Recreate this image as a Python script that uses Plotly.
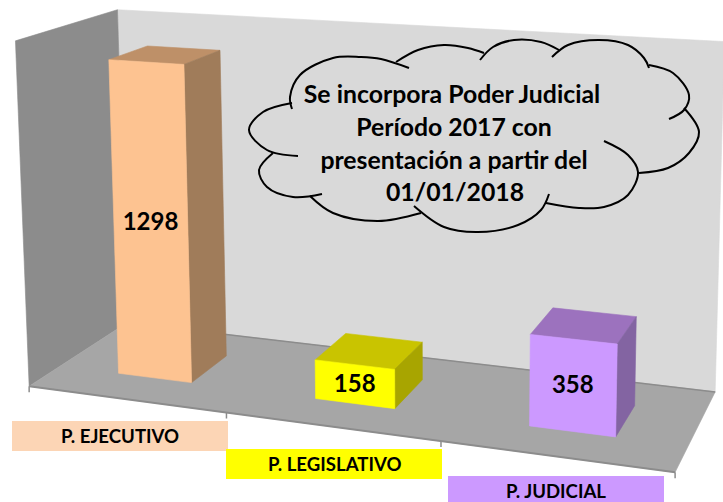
import numpy as np
import plotly.graph_objects as go

categories = ["P. EJECUTIVO", "P. LEGISLATIVO", "P. JUDICIAL"]
values = [1298, 158, 358]
axis_max = 1400
front_colors = ["#FDC391", "#FFFF00", "#CC99FF"]
top_colors = ["#BE9068", "#C9C400", "#9C72BE"]
side_colors = ["#A07C5A", "#A8A500", "#8364A2"]
label_colors = ["#FCD5B5", "#FFFF00", "#CC99FF"]
label_centers = [(120, 436), (334, 464), (556, 491)]

W, H = 723, 502

# camera calibration: (category pos, depth, height share) -> page pixel
calib = [
    ((0, 0, 0), (31, 386)), ((1, 0, 0), (228, 413)), ((2, 0, 0), (441, 442)),
    ((3, 0, 0), (674, 472)), ((0, 1, 0), (124, 322)), ((3, 1, 0), (716, 392)),
    ((0, 0, 1), (13, 40)), ((0, 1, 1), (120, 11)), ((3, 1, 1), (724, 41)),
]
rows, rhs = [], []
for (u, v, t), (px, py) in calib:
    rows.append([u, v, t, 1, 0, 0, 0, 0, -px * u, -px * v, -px * t]); rhs.append(px)
    rows.append([0, 0, 0, 0, u, v, t, 1, -py * u, -py * v, -py * t]); rhs.append(py)
sol = np.linalg.lstsq(np.array(rows, float), np.array(rhs, float), rcond=None)[0]
P = np.append(sol, 1.0).reshape(3, 4)


def proj(u, v, h):
    p = P @ np.array([u, v, h / axis_max, 1.0])
    return float(p[0] / p[2]), float(p[1] / p[2])


def poly(points, color, line=None, lw=0.6):
    xs = [p[0] for p in points] + [points[0][0]]
    ys = [p[1] for p in points] + [points[0][1]]
    return go.Scatter(x=xs, y=ys, mode="lines", fill="toself", fillcolor=color,
                      line=dict(color=line or color, width=lw), hoverinfo="skip", showlegend=False)


fig = go.Figure()
# walls and floor
fig.add_trace(poly([proj(0, 1, 0), proj(3, 1, 0), proj(3, 1, axis_max), proj(0, 1, axis_max)], "#D9D9D9"))
fig.add_trace(poly([proj(0, 0, 0), proj(0, 1, 0), proj(0, 1, axis_max), proj(0, 0, axis_max)], "#8C8C8C"))
fig.add_trace(poly([proj(0, 0, 0), proj(3, 0, 0), proj(3, 1, 0), proj(0, 1, 0)], "#A6A6A6"))

# floor edge and ticks
def seg(a, b, width=2, color="#8C8C8C"):
    fig.add_trace(go.Scatter(x=[a[0], b[0]], y=[a[1], b[1]], mode="lines",
                             line=dict(color=color, width=width), hoverinfo="skip", showlegend=False))

seg(proj(0, 1, 0), proj(3, 1, 0), 1.5)
seg(proj(0, 0, 0), proj(3, 0, 0), 2)
for i in range(len(categories) + 1):
    x0, y0 = proj(i, 0, 0)
    seg((x0, y0), (x0, y0 + 6), 1.5)

# bars
a, b, v0, v1 = 0.31, 0.69, 0.30, 0.70
label_x, label_y = [], []
for i, val in enumerate(values):
    u0, u1 = i + a, i + b
    fig.add_trace(poly([proj(u0, v1, val), proj(u1, v1, val), proj(u1, v0, val), proj(u0, v0, val)], top_colors[i]))
    fig.add_trace(poly([proj(u1, v0, 0), proj(u1, v1, 0), proj(u1, v1, val), proj(u1, v0, val)], side_colors[i]))
    fig.add_trace(poly([proj(u0, v0, 0), proj(u1, v0, 0), proj(u1, v0, val), proj(u0, v0, val)], front_colors[i]))
    cx, cy = proj((u0 + u1) / 2, v0, val / 2)
    label_x.append(cx)
    label_y.append(cy + 2)

fig.add_trace(go.Scatter(x=label_x, y=label_y, mode="text", text=[f"<b>{v}</b>" for v in values],
                         textposition="middle center", hoverinfo="skip", showlegend=False,
                         textfont=dict(family="Lato", size=24, color="#000000")))

# cloud callout, drawn arc by arc
cloud_arcs = [
    [(292, 109), (290, 97), (300, 75), (333, 58), (361, 57), (381, 59), (409, 68)],
    [(396, 62), (418, 50), (444, 45), (468, 48), (484, 53)],
    [(480, 60), (493, 47), (514, 40), (541, 42), (559, 50)],
    [(552, 57), (568, 45), (599, 40), (628, 45), (644, 58), (649, 68)],
    [(649, 65), (673, 73), (689, 95), (684, 110), (669, 119)],
    [(684, 108), (699, 132), (689, 153), (668, 168), (639, 173)],
    [(604, 141), (628, 155), (638, 172), (628, 195), (604, 207), (579, 208), (546, 203)],
    [(549, 194), (541, 210), (518, 225), (478, 232), (444, 227), (414, 206)],
    [(421, 213), (378, 221), (333, 213), (310, 196)],
    [(322, 194), (293, 197), (267, 187), (259, 170), (273, 153)],
    [(298, 156), (267, 150), (249, 130), (263, 112), (292, 103)],
]
for arc in cloud_arcs:
    fig.add_trace(go.Scatter(x=[p[0] for p in arc], y=[p[1] for p in arc], mode="lines",
                             line=dict(color="#000000", width=2, shape="spline", smoothing=1.0),
                             hoverinfo="skip", showlegend=False))

cloud_lines = ["Se incorpora Poder Judicial", "Período 2017 con",
               "presentación a partir del", "01/01/2018"]
cloud_y = [97, 130, 163, 195]
cloud_x = [452, 454, 454, 455]
fig.add_trace(go.Scatter(x=cloud_x, y=cloud_y, mode="text", text=[f"<b>{t}</b>" for t in cloud_lines],
                         textposition="middle center", hoverinfo="skip", showlegend=False,
                         textfont=dict(family="Lato", size=24.8, color="#000000")))

# category labels on coloured boxes
shapes = []
for (cx, cy), col in zip(label_centers, label_colors):
    shapes.append(dict(type="rect", xref="x", yref="y", x0=cx - 108, x1=cx + 108,
                       y0=cy - 15, y1=cy + 15, fillcolor=col, line=dict(width=0), layer="above"))
annotations = [dict(x=cx, y=cy, text=f"<b>{name}</b>", showarrow=False, xref="x", yref="y",
                    font=dict(family="Lato", size=18.6, color="#000000"))
               for name, (cx, cy) in zip(categories, label_centers)]

fig.update_layout(
    width=W, height=H, margin=dict(l=0, r=0, t=0, b=0),
    paper_bgcolor="#FFFFFF", plot_bgcolor="#FFFFFF", showlegend=False,
    xaxis=dict(range=[0, W], visible=False, fixedrange=True),
    yaxis=dict(range=[H, 0], visible=False, fixedrange=True),
    shapes=shapes, annotations=annotations,
)
fig.write_html("out.html", config=dict(displayModeBar=False),
               post_script="document.body.style.margin='0';document.documentElement.style.overflow='hidden';")
